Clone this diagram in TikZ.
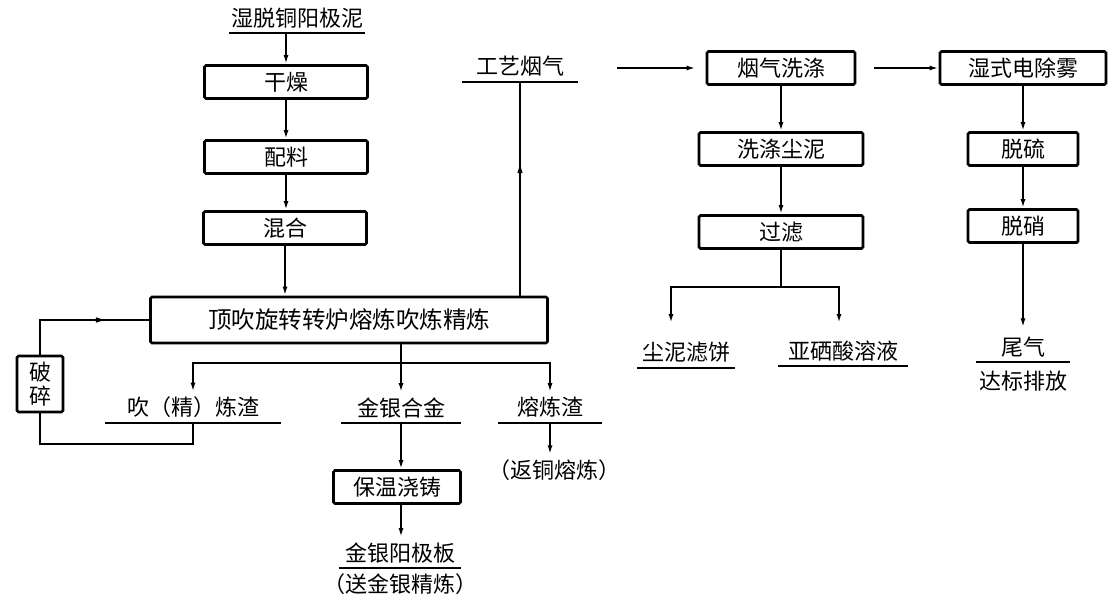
\documentclass[tikz,border=0pt]{standalone}
\usepackage{fontspec}
\setmainfont{Noto Sans CJK SC}
\usepackage{tikz}
\usetikzlibrary{arrows.meta, positioning, decorations.markings}

\tikzset{
  BoxStyle/.style={draw, line width=2.8pt, rounded corners=1.5pt, inner sep=0pt,
    minimum height=33pt, minimum width=#1},
  BoxStyle/.default=163pt,
  UnderLabel/.style={anchor=south, inner xsep=0pt, inner ysep=5pt, minimum width=#1},
  UnderLine/.style={line width=2.8pt},
  LineStyle/.style={line width=1.8pt},
  EdgeStyle/.style={->, line width=1.8pt},
  MidArrow/.style={line width=1.8pt, postaction={decorate},
    decoration={markings, mark=at position #1 with
      {\arrow[line width=1pt]{Latex[length=10pt, width=5.5pt]}}}},
}

\begin{document}
\begin{tikzpicture}[x=1pt, y=-1pt, font=\fontsize{22pt}{25pt}\selectfont,
  >={Latex[length=9pt, width=5pt]}]
\useasboundingbox (0,0) rectangle (1113,600);
% smelting column
\node[UnderLabel=135pt] (src) at (297,33) {湿脱铜阳极泥};
\node[BoxStyle] (dry) at (286,82) {干燥};
\node[BoxStyle] (mix1) at (286,157) {配料};
\node[BoxStyle] (mix2) at (285,228) {混合};
\node[BoxStyle=397pt, minimum height=46pt, font=\fontsize{23.5pt}{26pt}\selectfont]
  (furnace) at (349,320) {顶吹旋转转炉熔炼吹炼精炼};
\node[BoxStyle=46pt, minimum height=56pt, align=center,
  font=\fontsize{22pt}{24pt}\selectfont] (crush) at (40,384) {破\\碎};
% products
\node[UnderLabel=176pt] (blow) at (193,423) {吹（精）炼渣};
\node[UnderLabel=120pt] (alloy) at (401,423) {金银合金};
\node[UnderLabel=103pt] (slag) at (550,423) {熔炼渣};
\node[inner sep=0pt] (ret) at (554,470) {（返铜熔炼）};
\node[BoxStyle=127pt] (cast) at (397,487) {保温浇铸};
\node[UnderLabel=121pt] (plate) at (400,568) {金银阳极板};
\node[inner sep=0pt, below=5pt of plate.south] (plate2) {（送金银精炼）};
% gas line
\node[UnderLabel=115pt] (gas) at (520,82) {工艺烟气};
\node[BoxStyle=148pt] (wash) at (781,68) {烟气洗涤};
\node[BoxStyle=164pt] (clean) at (781,149) {洗涤尘泥};
\node[BoxStyle=164pt] (filter) at (781,232) {过滤};
\node[UnderLabel=98pt] (cake) at (686,368) {尘泥滤饼};
\node[UnderLabel=129pt] (selen) at (843,366) {亚硒酸溶液};
\node[BoxStyle=166pt] (mist) at (1023,68) {湿式电除雾};
\node[BoxStyle=110pt] (desulf) at (1023,149) {脱硫};
\node[BoxStyle=110pt] (denox) at (1023,226) {脱硝};
\node[UnderLabel=94pt] (tail) at (1023,362) {尾气};
\node[inner sep=0pt, below=9pt of tail.south] (tail2) {达标排放};

\foreach \n in {src,blow,alloy,slag,plate,gas,cake,selen,tail}
  \draw[UnderLine] (\n.south west) -- (\n.south east);

\coordinate (split) at (401,363);
\coordinate (fork) at (781,287);
\coordinate (gasout) at (617,68);
\coordinate (cakein) at (671,323);
\coordinate (selenin) at (839,323);

\draw[EdgeStyle] (src.south -| dry.north) -- (dry.north);
\draw[EdgeStyle] (dry) -- (mix1);
\draw[EdgeStyle] (mix1.south) -- (mix1.south |- mix2.north);
\draw[EdgeStyle] (mix2.south) -- (mix2.south |- furnace.north);
\draw[MidArrow=0.62] (furnace.north -| gas.south) -- (gas.south);
\draw[MidArrow=0.7] (crush.north) |- (furnace.west);
\draw[LineStyle] (blow.south) -- ++(0,21) -| (crush.south);
\draw[LineStyle] (furnace.south -| split) -- (split);
\draw[EdgeStyle] (split) -| (blow.north);
\draw[EdgeStyle] (split) -- (alloy.north);
\draw[EdgeStyle] (split) -| (slag.north);
\draw[EdgeStyle, shorten >=5pt] (slag.south) -- (slag.south |- ret.north);
\draw[EdgeStyle] (alloy.south) -- (alloy.south |- cast.north);
\draw[EdgeStyle] (alloy.south |- cast.south) -- (alloy.south |- plate.north);

\draw[EdgeStyle, shorten >=10pt] (gasout) -- (wash.west);
\draw[EdgeStyle] ([xshift=18pt]wash.east) -- (mist.west);
\draw[EdgeStyle] (wash) -- (clean);
\draw[EdgeStyle] (clean) -- (filter);
\draw[LineStyle] (filter.south) -- (fork);
\draw[EdgeStyle] (fork) -| (cakein);
\draw[EdgeStyle] (fork) -| (selenin);
\draw[EdgeStyle] (mist) -- (desulf);
\draw[EdgeStyle] (desulf) -- (denox);
\draw[EdgeStyle, shorten >=4pt] (denox) -- (tail.north);
\end{tikzpicture}
\end{document}
